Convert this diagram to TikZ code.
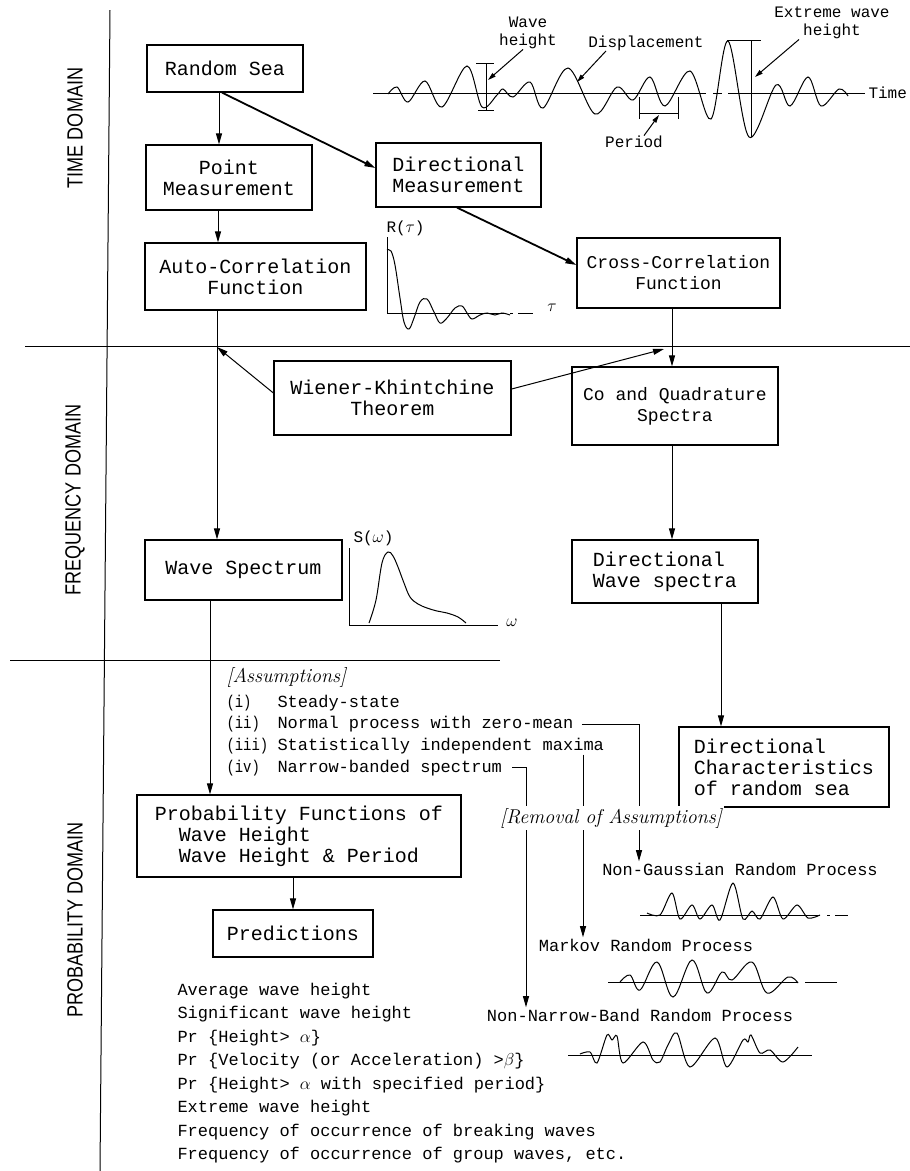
\documentclass[tikz,border=0pt]{standalone}
\usepackage{fontspec}
\setmonofont{Liberation Mono}
\setsansfont{Liberation Sans}
\usetikzlibrary{arrows.meta}

\tikzset{
  box/.style={draw,line width=1.2pt,inner sep=0pt,align=center,font=\ttfamily\fontsize{20}{21}\selectfont},
  sbox/.style={box,font=\ttfamily\fontsize{18}{21}\selectfont},
  lbl/.style={inner sep=0pt,align=center,font=\ttfamily\fontsize{16}{18}\selectfont},
  asm/.style={inner sep=0pt,anchor=west,font=\ttfamily\fontsize{17}{19}\selectfont},
  proc/.style={inner sep=1pt,font=\ttfamily\fontsize{17}{19}\selectfont},
  rem/.style={inner sep=2pt,font=\rmfamily\itshape\fontsize{20}{20}\selectfont},
  dom/.style={rotate=90,inner sep=0pt,font=\sffamily\fontsize{22}{22}\selectfont},
  crv/.style={line width=1pt,smooth,tension=0.6},
  sm/.style={-{Triangle[length=8pt,width=4.5pt]}},
  thick arrow/.style={->,line width=1.8pt},
}

\begin{document}
\begin{tikzpicture}[x=1pt,y=-1pt,line width=1pt,>={Triangle[length=11pt,width=6pt]}]
  \fill[white] (0,0) rectangle (910,1171);
  \useasboundingbox (0,0) rectangle (910,1171);

  \draw (110,10) -- (100,1171);
  \draw (25,346) -- (910,346);
  \draw (10,660) -- (500,660);
  \node[dom] (td) at (75,128) {\scalebox{0.82}[1]{TIME DOMAIN}};
  \node[dom] (fd) at (75,500) {\scalebox{0.82}[1]{FREQUENCY DOMAIN}};
  \node[dom] (prd) at (75,920) {\scalebox{0.82}[1]{PROBABILITY DOMAIN}};

  \node[box,minimum width=156,minimum height=47] (rs) at (225,68.5) {Random Sea};
  \node[box,minimum width=166,minimum height=65] (pm) at (229,177.5) {Point\\Measurement};
  \node[box,minimum width=165,minimum height=64] (dm) at (458.5,175) {Directional\\Measurement};
  \node[box,minimum width=221,minimum height=67] (ac) at (255.5,276.5) {Auto-Correlation\\Function};
  \node[sbox,minimum width=203,minimum height=70] (cc) at (678.5,273) {Cross-Correlation\\Function};
  \node[box,minimum width=237,minimum height=74] (wk) at (392.5,398) {Wiener-Khintchine\\Theorem};
  \node[sbox,minimum width=206,minimum height=78] (co) at (675,406) {Co and Quadrature\\Spectra};
  \node[box,minimum width=197,minimum height=60] (ws) at (243.5,570) {Wave Spectrum};
  \node[box,align=left,minimum width=186,minimum height=63] (dw) at (665,571.5) {Directional\\Wave spectra};
  \node[box,align=left,minimum width=210,minimum height=80] (dc) at (784,767) {Directional\\Characteristics\\of random sea};
  \node[box,align=left,minimum width=324,minimum height=82] (pf) at (299,836) {Probability Functions of\\\hspace*{1.2em}Wave Height\\\hspace*{1.2em}Wave Height \& Period};
  \node[box,minimum width=160,minimum height=47] (pr) at (293,933.5) {Predictions};

  \coordinate (acfd) at (217,347);
  \coordinate (cofd) at (664,349);
  \draw[->] ([xshift=-6pt]rs.south) -- ([xshift=-6pt]rs.south |- pm.north);
  \draw[thick arrow] ([xshift=-3pt]rs.south) -- ([yshift=7pt]dm.west);
  \draw[->] ([xshift=-11pt]pm.south) -- ([xshift=-11pt]pm.south |- ac.north);
  \draw[thick arrow] ([xshift=-1.5pt]dm.south) -- ([yshift=8pt]cc.west);
  \draw[->] ([xshift=-38.5pt]ac.south) -- ([xshift=-38.5pt]ac.south |- ws.north);
  \draw[->] ([yshift=5pt]wk.west) -- (acfd);
  \draw[->] ([yshift=9pt]wk.east) -- (cofd);
  \draw[->] ([xshift=-6.5pt]cc.south) -- ([xshift=-6.5pt]cc.south |- co.north);
  \draw[->] ([xshift=-3pt]co.south) -- ([xshift=-3pt]co.south |- dw.north);
  \draw[->] ([xshift=56pt]dw.south) -- ([xshift=56pt]dw.south |- dc.north);
  \draw[->] ([xshift=-33.5pt]ws.south) -- ([xshift=-33.5pt]ws.south |- pf.north);
  \draw[->] (pf.south -| pr.north) -- (pr.north);

  \draw (373,93) -- (706,93);
  \draw (713,93) -- (722,93);
  \draw (728,93) -- (865,93);
  \draw[crv,tension=0.55] plot coordinates {(388,94) (397,87) (408,102) (425,81) (442,107) (467,66) (482,107) (497,95) (503,89) (513,97) (530,82) (543,108) (568,68) (595,114) (617,87) (633,100) (650,77) (665,106) (690,71) (711,119) (728,41) (749,137) (776,85) (790,106) (808,77) (821,106) (839,89) (848,96)};
  \draw (486,63) -- (486,110);
  \draw (476,63) -- (494,63);
  \draw (478,110) -- (494,110);
  \draw (727,40) -- (761,40);
  \draw (751,40) -- (751,137);
  \draw (639,97) -- (639,119);
  \draw (678,97) -- (678,119);
  \draw (639,113) -- (678,113);
  \coordinate (whm) at (488,80);
  \coordinate (dsm) at (577,82);
  \coordinate (pdm) at (659,115);
  \coordinate (exm) at (755,77);
  \node[lbl] (wh) at (528,33) {Wave\\height};
  \node[lbl] (dsp) at (646,43) {Displacement};
  \node[lbl] (per) at (634,142) {Period};
  \node[lbl] (ewh) at (832,23) {Extreme wave\\height};
  \node[lbl,anchor=west] (tm) at (868,93) {Time};
  \draw[sm] ([xshift=-5pt]wh.south) -- (whm);
  \draw[sm] ([xshift=-40pt]dsp.south) -- (dsm);
  \draw[sm] ([xshift=10pt]per.north) -- (pdm);
  \draw[sm] ([xshift=-33pt]ewh.south) -- (exm);

  \draw (387,237) -- (387,313) -- (505,313);
  \draw (510,313) -- (513,313);
  \draw (518,313) -- (533,313);
  \draw[crv] plot coordinates {(387,250) (391,251) (395,265) (400,298) (404,322) (409,329) (414,318) (420,302) (427,299) (434,312) (440,323) (447,318) (455,308) (462,306) (467,313) (472,319) (480,315) (487,313) (495,315) (502,313) (510,315)};
  \node[lbl,anchor=west] (rt) at (386,228) {R($\tau$)};
  \node[lbl] (tau) at (552,308) {$\tau$};

  \draw (349,548) -- (349,625) -- (498,625);
  \draw[crv] plot coordinates {(369,623) (376,600) (382,563) (388,552) (393,556) (398,567) (404,583) (410,597) (418,604) (427,608) (437,611) (447,613) (458,617) (466,623)};
  \node[lbl,anchor=west] (sw) at (353,538) {S($\omega$)};
  \node[lbl] (om) at (512,623) {$\omega$};

  \node[rem,anchor=west,inner sep=0pt] (as) at (226,677) {[Assumptions]};
  \foreach \n/\t [count=\i] in {(i)/Steady-state,(ii)/Normal process with zero-mean,(iii)/Statistically independent maxima,(iv)/Narrow-banded spectrum}
  {
    \node[asm] (n\i) at (226,{681+21.7*\i}) {\scalebox{0.82}[1]{\n}};
    \node[asm] (t\i) at (277,{681+21.7*\i}) {\t};
  }

  \node[proc] (ng) at (740,869) {Non-Gaussian Random Process};
  \node[proc] (mk) at (646,945) {Markov Random Process};
  \node[proc] (nb) at (640,1015) {Non-Narrow-Band Random Process};
  \coordinate (v1) at (639,0);
  \coordinate (v2) at (583,0);
  \coordinate (v3) at (526,0);
  \draw[->] ([xshift=8pt]t2.east) -| (v1 |- ng.north);
  \draw[->] (t3.south -| v2) -- (v2 |- mk.north);
  \draw[->] ([xshift=10pt]t4.east) -| (v3 |- nb.north);
  \node[rem,fill=white] (rm) at (611,818) {[Removal of Assumptions]};

  \draw (640,915) -- (820,915);
  \draw (827,915) -- (830,915);
  \draw (835,915) -- (848,915);
  \draw[crv,tension=0.5] plot coordinates {(647,913) (660,915) (672,893) (680,919) (692,905) (700,919) (712,905) (720,920) (733,883) (743,919) (752,911) (760,919) (773,897) (783,919) (797,905) (808,918) (820,915)};
  \draw (608,982) -- (797,982);
  \draw (805,982) -- (837,982);
  \draw[crv] plot coordinates {(620,982) (630,975) (640,990) (657,962) (673,997) (692,960) (707,993) (722,972) (732,980) (752,962) (767,993) (788,977) (798,983)};
  \draw (568,1055) -- (812,1055);
  \draw[crv,tension=0.5] plot coordinates {(580,1054) (590,1052) (597,1063) (607,1035) (612,1040) (617,1036) (623,1063) (643,1042) (653,1060) (660,1062) (668,1045) (677,1033) (690,1067) (715,1038) (727,1067) (743,1040) (748,1042) (751,1035) (760,1053) (770,1050) (783,1062) (798,1047)};

  \foreach \t [count=\i] in {Average wave height,Significant wave height,{Pr \{Height> $\alpha$\}},{Pr \{Velocity (or Acceleration) >$\beta$\}},{Pr \{Height> $\alpha$ with specified period\}},Extreme wave height,Frequency of occurrence of breaking waves,{Frequency of occurrence of group waves, etc.}}
  {
    \node[asm] (l\i) at (177,{967.5+23.5*\i}) {\t};
  }
\end{tikzpicture}
\end{document}
